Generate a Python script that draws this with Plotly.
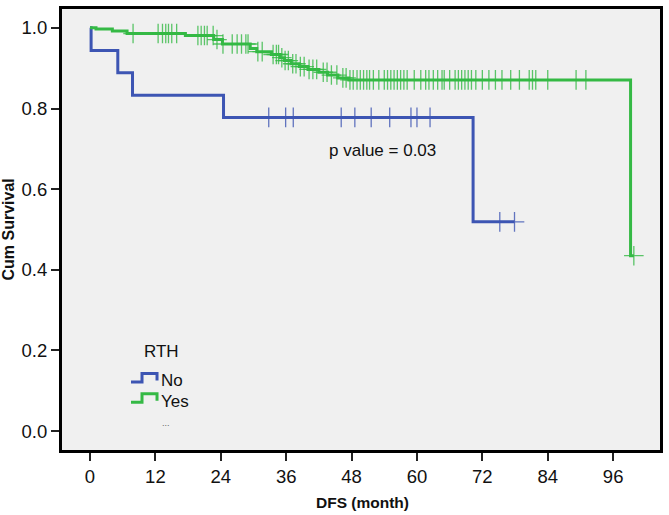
import numpy as np
import plotly.graph_objects as go

# ---------------- data ----------------
# RTH = No
no_times = [0, 0.2, 5.1, 7.8, 24.5, 70.3]
no_surv = [1.0, 0.944, 0.889, 0.833, 0.778, 0.519]
no_end = 77.9
no_censor = [32.8, 35.9, 37.3, 46.1, 48.6, 51.6, 55.0, 58.9, 60.0, 62.4, 75.2, 77.9]

# RTH = Yes
yes_times = [0, 1.1, 4.1, 6.8, 17.5, 22.7, 24.3, 29.4, 30.6, 33.3, 34.9, 35.7,
             36.9, 38.4, 40.0, 42.0, 43.6, 45.5, 47.5, 99.2]
yes_surv = [1.0, 0.997, 0.992, 0.986, 0.981, 0.971, 0.960, 0.949, 0.941, 0.934, 0.926, 0.919,
            0.911, 0.904, 0.897, 0.890, 0.883, 0.876, 0.871, 0.435]
yes_end = 99.8
yes_censor = [7.9, 12.5, 13.3, 13.9, 14.4, 15.0, 15.9, 19.8, 20.4, 21.0, 21.5, 22.6, 23.3,
              24.4, 26.1, 27.0, 27.8, 28.6, 29.0, 30.8, 31.6, 33.6, 34.2, 34.6, 35.2, 35.8,
              36.4, 37.2, 37.8, 38.6, 39.3, 40.2, 40.9, 41.6, 42.8, 43.5, 44.3, 45.3, 46.4,
              47.0, 47.7, 48.3, 49.0, 49.6, 50.2, 50.8, 51.3, 52.0, 53.0, 54.0, 54.6, 55.2,
              55.8, 56.4, 57.0, 57.6, 58.2, 59.5, 60.7, 61.6, 62.2, 63.0, 63.8, 64.6, 65.0,
              66.0, 67.0, 67.6, 68.2, 68.8, 69.4, 70.0, 70.8, 72.0, 73.2, 74.4, 75.6, 77.2,
              78.8, 80.6, 81.2, 81.8, 84.0, 89.2, 91.0, 99.8]

x_ticks = [0, 12, 24, 36, 48, 60, 72, 84, 96]
y_ticks = [0.0, 0.2, 0.4, 0.6, 0.8, 1.0]
y_ticklabels = ["0.0", "0.2", "0.4", "0.6", "0.8", "1.0"]
groups = ["No", "Yes"]

# ---------------- style ----------------
BLUE = "#3d55b3"
GREEN = "#35b945"
BLUE_C = "rgba(61,85,179,0.8)"
GREEN_C = "rgba(53,185,69,0.8)"
W, H = 669, 515
ML, MR, MT, MB = 62, 9, 6, 65
TICKFONT = "Liberation Sans, Arial, sans-serif"
FONT = "Liberation Sans, Arial, sans-serif"


def step_value(times, surv, t):
    i = int(np.searchsorted(times, t, side="right")) - 1
    return surv[max(i, 0)]


fig = go.Figure()
for times, surv, end, cens, col, ccol, name in [
    (no_times, no_surv, no_end, no_censor, BLUE, BLUE_C, groups[0]),
    (yes_times, yes_surv, yes_end, yes_censor, GREEN, GREEN_C, groups[1]),
]:
    fig.add_trace(go.Scatter(
        x=list(times) + [end], y=list(surv) + [surv[-1]],
        mode="lines", line=dict(color=col, width=3, shape="hv"),
        name=name, showlegend=False, hoverinfo="skip"))
    fig.add_trace(go.Scatter(
        x=cens, y=[step_value(times, surv, t) for t in cens],
        mode="markers",
        marker=dict(symbol="cross-thin", size=14, line=dict(color=ccol, width=1.3)),
        showlegend=False, hoverinfo="skip"))

pw = W - ML - MR
ph = H - MT - MB


def px(x):
    return (x - ML) / pw


def py(y):
    return 1 - (y - MT) / ph


shapes = []
annotations = []
# custom legend
annotations.append(dict(x=px(161), y=py(351), xref="paper", yref="paper", text="RTH",
                        showarrow=False, font=dict(family=FONT, size=17, color="#111"),
                        xanchor="center", yanchor="middle"))
legend_rows = [(381.5, 373, 380, BLUE, groups[0]), (402, 393.5, 401, GREEN, groups[1])]
for ylow, yhigh, ytext, col, label in legend_rows:
    path = "M {:.4f},{:.4f} L {:.4f},{:.4f} L {:.4f},{:.4f} L {:.4f},{:.4f} L {:.4f},{:.4f}".format(
        px(131), py(ylow), px(142), py(ylow), px(142), py(yhigh), px(157), py(yhigh),
        px(157), py(yhigh + 7))
    shapes.append(dict(type="path", path=path, xref="paper", yref="paper",
                       line=dict(color=col, width=3)))
    annotations.append(dict(x=px(159), y=py(ytext), xref="paper", yref="paper", text=label,
                            showarrow=False, font=dict(family=FONT, size=17, color="#111"),
                            xanchor="left", yanchor="middle"))
annotations.append(dict(x=px(166), y=py(423), xref="paper", yref="paper", text="...",
                        showarrow=False, font=dict(family=FONT, size=9, color="#666"),
                        xanchor="center", yanchor="middle"))
# p value
annotations.append(dict(x=px(327), y=py(148), xref="paper", yref="paper", text="p value = 0.03",
                        showarrow=False, font=dict(family=FONT, size=17, color="#111"),
                        xanchor="left", yanchor="middle"))
# axis titles
annotations.append(dict(x=px(362), y=py(503), xref="paper", yref="paper", text="<b>DFS (month)</b>",
                        showarrow=False, font=dict(family=FONT, size=15.5, color="#111"),
                        xanchor="center", yanchor="middle"))
annotations.append(dict(x=px(8), y=py(228), xref="paper", yref="paper", text="<b>Cum Survival</b>",
                        showarrow=False, textangle=-90, font=dict(family=FONT, size=16, color="#111"),
                        xanchor="center", yanchor="middle"))

fig.update_layout(
    width=W, height=H,
    margin=dict(l=ML, r=MR, t=MT, b=MB, pad=0),
    paper_bgcolor="white", plot_bgcolor="#f0f0f0",
    shapes=shapes, annotations=annotations, showlegend=False,
    xaxis=dict(range=[-5.14, 104.6], tickvals=x_ticks, ticktext=[str(v) for v in x_ticks],
               showgrid=False, zeroline=False, showline=True, mirror=True, linewidth=3,
               linecolor="black", ticks="outside", ticklen=8, tickwidth=1.5, tickcolor="#222",
               tickfont=dict(family=TICKFONT, size=18.5, color="#111")),
    yaxis=dict(range=[-0.0468, 1.0468], tickvals=y_ticks, ticktext=y_ticklabels,
               showgrid=False, zeroline=False, showline=True, mirror=True, linewidth=3,
               linecolor="black", ticks="outside", ticklen=8, tickwidth=1.5, tickcolor="#222",
               tickfont=dict(family=TICKFONT, size=18.5, color="#111")),
)

fig.write_html("out.html")
